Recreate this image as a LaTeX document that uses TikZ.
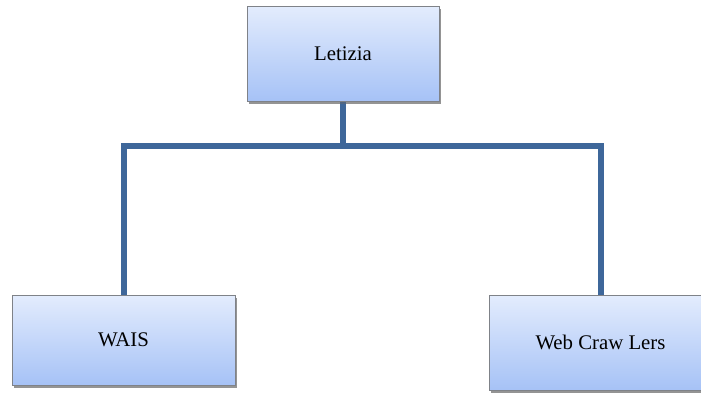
\documentclass[tikz,border=0pt]{standalone}
\usepackage{fontspec}
\setmainfont{Liberation Serif}
\usetikzlibrary{shadows}
\definecolor{linkblue}{HTML}{3E679A}
\definecolor{boxtop}{HTML}{E3ECFD}
\definecolor{boxbottom}{HTML}{A6C2F6}
\definecolor{boxedge}{HTML}{7F8288}
\tikzset{
  unitbox/.style={draw=boxedge, line width=0.8pt, top color=boxtop, bottom color=boxbottom,
    drop shadow={shadow xshift=2pt, shadow yshift=-2.5pt, opacity=0.45, fill=black!60},
    font=\fontsize{20.8}{25}\selectfont, inner sep=0pt},
  link/.style={draw=linkblue, line width=6pt}
}
\begin{document}
\begin{tikzpicture}[x=1pt, y=-1pt]
  \clip (0,0) rectangle (701,392);
  \useasboundingbox (0,0) rectangle (701,392);
  \fill[white] (0,0) rectangle (701,392);
  % hierarchy connectors
  \coordinate (j) at (343,146);
  \node[unitbox, minimum width=192pt, minimum height=95pt] (top) at (343,53.5) {};
  \node[unitbox, minimum width=223pt, minimum height=90pt] (wais) at (123.5,340) {};
  \node[unitbox, minimum width=223pt, minimum height=95pt] (crawl) at (600.5,342.5) {};
  \draw[link] (top.south) -- (j);
  \draw[link, line join=miter] (wais.north) |- (j) -| (crawl.north);
  % repaint boxes over the line ends
  \node[unitbox, minimum width=192pt, minimum height=95pt] at (top) {Letizia};
  \node[unitbox, minimum width=223pt, minimum height=90pt] at (wais) {WAIS};
  \node[unitbox, minimum width=223pt, minimum height=95pt] at (crawl) {Web Craw Lers};
\end{tikzpicture}
\end{document}
